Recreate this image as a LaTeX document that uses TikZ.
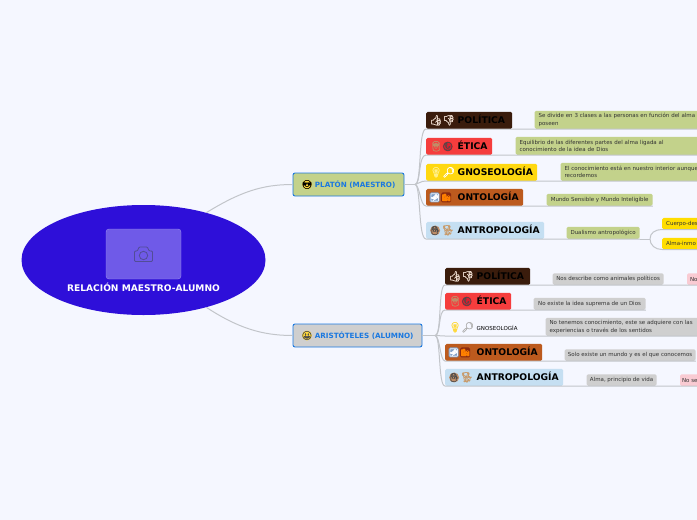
\documentclass[tikz,border=0pt]{standalone}
\usepackage{fontspec}
\setmainfont{DejaVu Sans}
\newfontfamily\emojifont[FakeBold=1.6]{Noto Emoji}
\usepackage{tikz}
\usetikzlibrary{positioning,shapes.geometric}

\definecolor{pagebg}{HTML}{F5F7FF}
\definecolor{rootblue}{HTML}{2E0FD9}
\definecolor{photoblue}{HTML}{6F5AE8}
\definecolor{cameragrey}{HTML}{524D96}
\definecolor{linkgrey}{HTML}{C2C5CA}
\definecolor{topicblue}{HTML}{1A78E0}
\definecolor{leafgreen}{HTML}{C3D28B}
\definecolor{leafgrey}{HTML}{CFCFCF}
\definecolor{leafpink}{HTML}{F9CBD3}
\definecolor{leafyellow}{HTML}{FFDD00}
\definecolor{politbrown}{HTML}{3A1C0C}
\definecolor{eticared}{HTML}{F53D3D}
\definecolor{gnosyellow}{HTML}{FFD810}
\definecolor{ontobrown}{HTML}{BC5A1E}
\definecolor{antroblue}{HTML}{C5DFF2}
\definecolor{thumbpale}{HTML}{F0DFD2}
\definecolor{bulbpale}{HTML}{FFF08A}
\definecolor{dogtan}{HTML}{C89A6A}
\definecolor{facetan}{HTML}{C08E68}
\definecolor{facered}{HTML}{D81F2E}
\definecolor{facegold}{HTML}{FFD93B}
\definecolor{tileblue}{HTML}{7F9FC8}
\definecolor{tilered}{HTML}{8A2A10}

\tikzset{glyph/.style={anchor=center, minimum width=0pt, minimum height=0pt, text width=, align=none, inner sep=0pt, fill=none, draw=none}}
\newcommand{\emo}[2]{{\emojifont\fontsize{10}{10}\selectfont\textcolor{#1}{#2}}}
\newcommand{\roundemo}[3]{\tikz[baseline=-3.2pt]{\fill[#1] (0,0) circle (5pt); \node[glyph, text=#2] (faceglyph) at (0,0) {\emojifont\fontsize{8.5}{9}\selectfont #3};}}
\newcommand{\tileemo}[3]{\tikz[baseline=-3.2pt]{\fill[#1] (-5,-5) rectangle (5,5); \node[glyph, text=#2] (tileglyph) at (0,0) {\emojifont\fontsize{7.5}{8}\selectfont #3};}}
\newcommand{\brlabel}[2]{\makebox[28pt][l]{#1}#2}

\begin{document}
\begin{tikzpicture}[x=1pt,y=-1pt,
  topic/.style={draw=topicblue, line width=0.9pt, rounded corners=2pt, minimum height=23pt, inner sep=0pt, font=\fontsize{7.2}{8}\selectfont\bfseries, text=topicblue},
  branch/.style={rounded corners=1.5pt, minimum height=17pt, inner ysep=0pt, inner xsep=3.5pt, align=left, anchor=south west, font=\fontsize{9.2}{11}\selectfont\bfseries, text=black},
  leaf/.style={rounded corners=1.5pt, inner sep=0pt, anchor=south west, font=\fontsize{5.5}{7.4}\selectfont, text=black!80, align=left},
  link/.style={draw=linkgrey, line width=1pt},
]
  \useasboundingbox (0,0) rectangle (697,520);
  \fill[pagebg] (0,0) rectangle (697,520);

  \node[ellipse, fill=rootblue, minimum width=244pt, minimum height=110pt, inner sep=0pt] (root) at (143.5,260) {};
  \node[draw=white!30!photoblue, fill=photoblue, rounded corners=3pt, minimum width=75pt, minimum height=50pt, inner sep=0pt] (photo) at (143.5,254) {};
  \node[font=\fontsize{9.1}{10}\selectfont\bfseries, text=white, inner sep=0pt] (title) at (143.5,287) {RELACIÓN MAESTRO-ALUMNO};
  \draw[cameragrey, line width=0.8pt, rounded corners=1pt] (134.5,251) -- (137.5,251) -- (139,247) -- (147.5,247) -- (149,251) -- (152.5,251) -- (152.5,261.5) -- (134.5,261.5) -- cycle;
  \draw[cameragrey, line width=0.8pt] (143.5,255.5) circle (4.2pt);

  \node[topic, fill=leafgreen, minimum width=111pt] (platon) at (348.5,184.5) {\roundemo{facegold}{black}{😎}\hspace{2.5pt}PLATÓN (MAESTRO)};
  \node[topic, fill=leafgrey, minimum width=129pt] (aristoteles) at (357.5,335.5) {\roundemo{facegold}{black!70}{😃}\hspace{2.5pt}ARISTÓTELES (ALUMNO)};

  \draw[link] (root.37) .. controls (240,192) and (262,184.5) .. (platon.west);
  \draw[link] (root.-37) .. controls (238,328) and (262,335.5) .. (aristoteles.west);

  % Platon
  \coordinate (platonHub) at (415,184.5);
  \node[branch, fill=politbrown, text width=79pt] (politicaP) at (426,129) {\brlabel{\emo{thumbpale}{👍👎}}{POLÍTICA}};
  \node[branch, fill=eticared, text width=59pt] (eticaP) at (426,155) {\brlabel{\emo{facetan}{👮}\roundemo{facered}{black!70}{😡}}{ÉTICA}};
  \node[branch, fill=gnosyellow, text width=104pt] (gnoseoP) at (426,181) {\brlabel{\emo{bulbpale}{💡}\emo{white}{🔎}}{GNOSEOLOGÍA}};
  \node[branch, fill=ontobrown, text width=90pt] (ontoP) at (426,206) {\brlabel{\tileemo{tileblue}{white}{🌁}\hspace{1.5pt}\tileemo{tilered}{orange}{🌇}}{ONTOLOGÍA}};
  \node[branch, fill=antroblue, text width=111pt] (antroP) at (426,239) {\brlabel{\roundemo{facetan}{black!70}{👦}\hspace{1pt}\emo{dogtan}{🐕}}{ANTROPOLOGÍA}};

  \node[leaf, fill=leafgreen, minimum width=200pt, minimum height=18pt, text width=196pt] (politicaA) [right=22pt of politicaP.south east, anchor=south west] {\hspace*{2pt}Se divide en 3 clases a las personas en función del alma\\\hspace*{2pt}poseen};
  \node[leaf, fill=leafgreen, minimum width=200pt, minimum height=18pt, text width=196pt] (eticaA) [right=23pt of eticaP.south east, anchor=south west] {\hspace*{2pt}Equilibrio de las diferentes partes del alma ligada al\\\hspace*{2pt}conocimiento de la idea de Dios};
  \node[leaf, fill=leafgreen, minimum width=200pt, minimum height=18pt, text width=196pt] (gnoseoA) [right=23pt of gnoseoP.south east, anchor=south west] {\hspace*{2pt}El conocimiento está en nuestro interior aunque\\\hspace*{2pt}recordemos};
  \node[leaf, fill=leafgreen, minimum width=106pt, minimum height=12pt, align=center] (ontoA) [right=23pt of ontoP.south east, anchor=south west] {Mundo Sensible y Mundo Inteligible};
  \node[leaf, fill=leafgreen, minimum width=73pt, minimum height=12pt, align=center] (antroA) [right=22pt of antroP.south east, anchor=south west] {Dualismo antropológico};
  \coordinate (dualHub) at (650,239);
  \node[leaf, fill=leafyellow, minimum width=50pt, minimum height=11.5pt, text width=46pt] (cuerpo) at (662,229.5) {\hspace*{2pt}Cuerpo-des};
  \node[leaf, fill=leafyellow, minimum width=50pt, minimum height=11.5pt, text width=46pt] (alma) at (662,249.5) {\hspace*{2pt}Alma-inmo};

  \draw[link] (platon.east) -- (platonHub);
  \draw[link] (platonHub) .. controls (422,184.5) and (418,129) .. (politicaP.south west) -- (politicaA.south east);
  \draw[link] (platonHub) .. controls (421,184.5) and (418,155) .. (eticaP.south west) -- (eticaA.south east);
  \draw[link] (platonHub) .. controls (419,184) and (420,181) .. (gnoseoP.south west) -- (gnoseoA.south east);
  \draw[link] (platonHub) .. controls (420,185) and (420,206) .. (ontoP.south west) -- (ontoA.south east);
  \draw[link] (platonHub) .. controls (421,184.5) and (418,239) .. (antroP.south west) -- (antroA.south east);
  \draw[link] (antroA.south east) -- (dualHub);
  \draw[link] (dualHub) .. controls (650,233) and (655,229.5) .. (cuerpo.south west) -- (cuerpo.south east);
  \draw[link] (dualHub) .. controls (650,245) and (655,249.5) .. (alma.south west) -- (alma.south east);

  % Aristoteles
  \coordinate (aristHub) at (435,335.5);
  \node[branch, fill=politbrown, text width=78pt] (politicaQ) at (445,285) {\brlabel{\emo{thumbpale}{👍👎}}{POLÍTICA}};
  \node[branch, fill=eticared, text width=59pt] (eticaQ) at (445,310) {\brlabel{\emo{facetan}{👮}\roundemo{facered}{black!70}{😡}}{ÉTICA}};
  \node[branch, text width=67pt, font=\fontsize{5.5}{7}\selectfont] (gnoseoQ) at (445,336) {\brlabel{\emo{facegold}{💡}\emo{black!30}{🔎}}{GNOSEOLOGÍA}};
  \node[branch, fill=ontobrown, text width=90pt] (ontoQ) at (445,361) {\brlabel{\tileemo{tileblue}{white}{🌁}\hspace{1.5pt}\tileemo{tilered}{orange}{🌇}}{ONTOLOGÍA}};
  \node[branch, fill=antroblue, text width=111pt] (antroQ) at (445,386) {\brlabel{\roundemo{facetan}{black!70}{👦}\hspace{1pt}\emo{dogtan}{🐕}}{ANTROPOLOGÍA}};

  \node[leaf, fill=leafgrey, minimum width=111pt, minimum height=11.5pt, align=center] (politicaB) [right=22pt of politicaQ.south east, anchor=south west] {Nos describe como animales políticos};
  \node[leaf, fill=leafpink, minimum width=30pt, minimum height=11.5pt, text width=26pt] (politicaC) [right=23pt of politicaB.south east, anchor=south west] {\hspace*{1pt}No};
  \node[leaf, fill=leafgrey, minimum width=112pt, minimum height=12pt, align=center] (eticaB) [right=22pt of eticaQ.south east, anchor=south west] {No existe la idea suprema de un Dios};
  \node[leaf, fill=leafgrey, minimum width=170pt, minimum height=18pt, text width=166pt] (gnoseoB) [right=26pt of gnoseoQ.south east, anchor=south west] {\hspace*{2pt}No tenemos conocimiento, este se adquiere con las\\\hspace*{2pt}experiencias o través de los sentidos};
  \node[leaf, fill=leafgrey, minimum width=131pt, minimum height=11.5pt, align=center] (ontoB) [right=22pt of ontoQ.south east, anchor=south west] {Solo existe un mundo y es el que conocemos};
  \node[leaf, fill=leafgrey, minimum width=70pt, minimum height=11.5pt, align=center] (antroB) [right=23pt of antroQ.south east, anchor=south west] {Alma, principio de vida};
  \node[leaf, fill=leafpink, minimum width=40pt, minimum height=11.5pt, text width=36pt] (antroC) [right=23pt of antroB.south east, anchor=south west] {No se};

  \draw[link] (aristoteles.east) -- (aristHub);
  \draw[link] (aristHub) .. controls (442,335.5) and (438,285) .. (politicaQ.south west) -- (politicaB.south east) -- (politicaC.south east);
  \draw[link] (aristHub) .. controls (441,335.5) and (438,310) .. (eticaQ.south west) -- (eticaB.south east);
  \draw[link] (aristHub) -- (gnoseoQ.south west) -- (gnoseoB.south east);
  \draw[link] (aristHub) .. controls (440,336) and (440,361) .. (ontoQ.south west) -- (ontoB.south east);
  \draw[link] (aristHub) .. controls (441,335.5) and (438,386) .. (antroQ.south west) -- (antroB.south east) -- (antroC.south east);
\end{tikzpicture}
\end{document}
